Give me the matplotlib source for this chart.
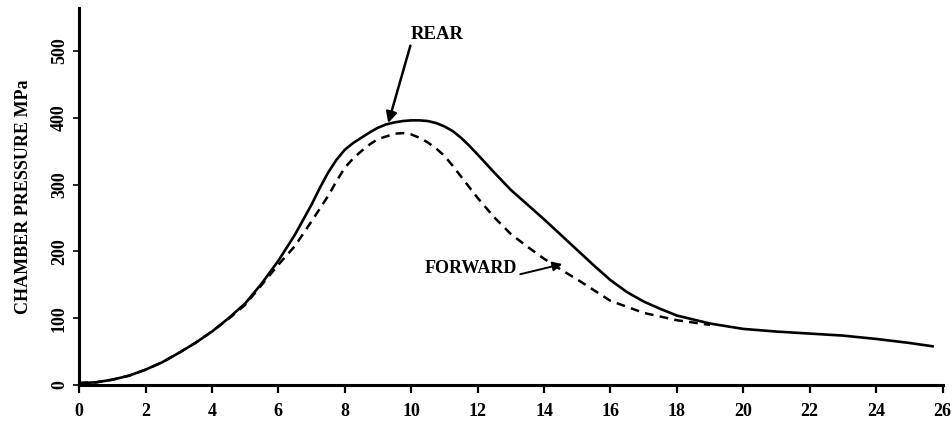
import matplotlib
matplotlib.use("Agg")
import matplotlib.pyplot as plt

plt.rcParams['font.family'] = ['Liberation Serif', 'DejaVu Serif']
plt.rcParams['font.weight'] = 'bold'

# Chamber pressure vs time, rear gauge (solid)
rear_t = [0, 0.5, 1, 1.5, 2, 2.5, 3, 3.5, 4, 4.5, 5, 5.5, 6, 6.5, 7, 7.25, 7.5,
          7.75, 8, 8.25, 8.5, 8.75, 9, 9.25, 9.5, 9.75, 10, 10.25, 10.5, 10.75,
          11, 11.25, 11.5, 11.75, 12, 12.5, 13, 13.5, 14, 14.5, 15, 15.5,
          16, 16.5, 17, 17.5, 18, 19, 20, 21, 22, 23, 24, 25, 25.7]
rear_p = [3, 4, 8, 14, 23, 34, 48, 63, 80, 100, 122, 152, 186, 225, 270, 295,
          318, 337, 352, 362, 370, 378, 385, 390, 393, 395, 396, 396, 395, 392,
          387, 380, 370, 358, 345, 318, 292, 270, 248, 225, 202, 179, 157, 139,
          125, 114, 104, 92, 84, 80, 77, 74, 69, 63, 58]

# forward gauge (dashed)
fwd_t = [0, 0.5, 1, 1.5, 2, 2.5, 3, 3.5, 4, 4.5, 5, 5.5, 6, 6.5, 7, 7.25, 7.5,
         7.75, 8, 8.25, 8.5, 8.75, 9, 9.25, 9.5, 9.75, 10, 10.25, 10.5, 10.75,
         11, 11.25, 11.5, 11.75, 12, 12.5, 13, 13.5, 14, 14.5, 15, 16, 17,
         18, 19]
fwd_p = [3, 4, 8, 14, 23, 34, 48, 63, 80, 99, 120, 150, 180, 208, 245, 264,
         283, 305, 325, 339, 350, 360, 368, 372, 376, 377, 375, 370, 363, 354,
         343, 328, 312, 296, 280, 251, 226, 207, 189, 173, 158, 126, 108,
         97, 90]

x_ticks = [0, 2, 4, 6, 8, 10, 12, 14, 16, 18, 20, 22, 24, 26]
y_ticks = [0, 100, 200, 300, 400, 500]

fig = plt.figure(figsize=(9.53, 4.25), dpi=100)
ax = fig.add_axes([0.083, 0.094, 0.906, 0.887])

ax.plot(rear_t, rear_p, color='black', linewidth=1.9)
ax.plot(fwd_t, fwd_p, color='black', linewidth=1.8, linestyle=(0, (3.5, 2.5)))

ax.set_xlim(0, 26)
ax.set_ylim(0, 564)
ax.set_xticks(x_ticks)
ax.set_yticks(y_ticks)

for side in ['top', 'right']:
    ax.spines[side].set_visible(False)
for side in ['left', 'bottom']:
    ax.spines[side].set_linewidth(2.2)

ax.tick_params(axis='x', direction='out', length=6, width=1.6, pad=7, labelsize=13)
ax.tick_params(axis='y', direction='out', length=4, width=1.2, pad=4, labelsize=13,
               labelrotation=90)
for lab in ax.get_yticklabels():
    lab.set_va('center')

ax.set_ylabel('CHAMBER PRESSURE MPa', fontsize=13, fontweight='bold', labelpad=14)

ax.annotate('REAR', xy=(9.31, 392), xytext=(10.0, 512), fontsize=13.5,
            fontweight='bold', ha='left', va='bottom',
            arrowprops=dict(arrowstyle='-|>', color='black', lw=1.8,
                            mutation_scale=16, shrinkA=0, shrinkB=0,
                            relpos=(0, 0)))

ax.annotate('FORWARD', xy=(14.55, 181), xytext=(10.42, 175), fontsize=13,
            fontweight='bold', ha='left', va='center',
            arrowprops=dict(arrowstyle='-|>', color='black', lw=1.4,
                            mutation_scale=14, shrinkA=0, shrinkB=0,
                            relpos=(1, 0.1)))

fig.savefig('out.png', dpi=100)
